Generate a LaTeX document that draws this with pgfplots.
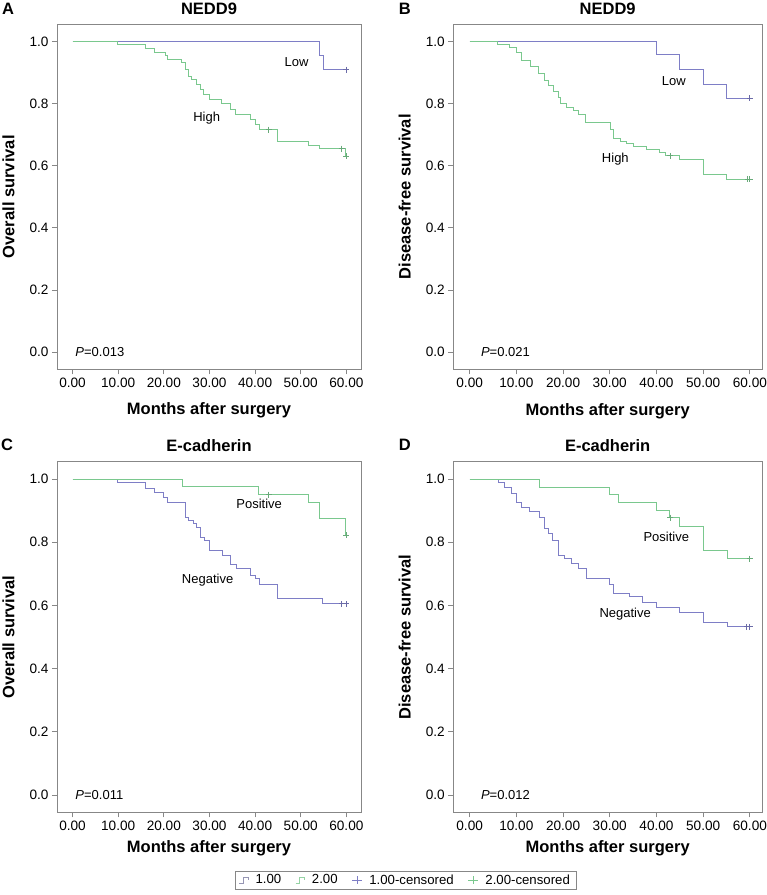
\documentclass[border=0pt]{standalone}
\usepackage{fontspec}
\setmainfont{Liberation Sans}
\usepackage{pgfplots}
\pgfplotsset{compat=1.18}

\definecolor{kmblue}{RGB}{126,126,198}
\definecolor{kmgreen}{RGB}{122,200,142}
\definecolor{frame}{RGB}{135,135,135}
\definecolor{iconblue}{RGB}{150,150,180}

\newcommand{\lblfont}{\fontsize{16.5}{18}\selectfont\bfseries}
\newcommand{\txtfont}{\fontsize{13}{15}\selectfont}

\pgfplotsset{
  km/.style={
    scale only axis,
    xmin=-3.4, xmax=63.2,
    ymin=-0.055, ymax=1.055,
    xtick={0,10,...,60},
    ytick={0,0.2,0.4,0.6,0.8,1.0},
    xticklabel style={/pgf/number format/.cd,fixed,fixed zerofill,precision=2},
    yticklabel style={/pgf/number format/.cd,fixed,fixed zerofill,precision=1},
    /pgf/number format/assume math mode=true,
    tick label style={font=\fontsize{13.6}{15}\selectfont},
    tick align=outside, tick pos=left,
    major tick length=5pt,
    axis line style={frame, line width=0.9pt},
    every tick/.style={frame, line width=0.8pt},
    label style={font=\lblfont},
    title style={font=\lblfont},
    every axis title shift=0pt,
    xlabel={Months after surgery},
    clip=false,
  },
  step1/.style={const plot, color=kmblue, line width=0.9pt, no marks},
  step2/.style={const plot, color=kmgreen, line width=0.9pt, no marks},
  cens1/.style={only marks, mark=+, mark size=3pt, color=kmblue!85!black, mark options={line width=0.9pt}},
  cens2/.style={only marks, mark=+, mark size=3pt, color=kmgreen!85!black, mark options={line width=0.9pt}},
}

\begin{document}
\begin{tikzpicture}
\path[use as bounding box] (0pt,0pt) rectangle (767pt,-895pt);

% ---------------- A ----------------
\begin{axis}[km,
  at={(57pt,-24.3pt)}, anchor=north west,
  width=304pt, height=345pt,
  ylabel={Overall survival},
  ylabel style={at={(axis description cs:-0.16,0.5)}, anchor=center},
  xlabel style={at={(axis description cs:0.5,-0.119)}, anchor=center},
  title={NEDD9},
  title style={at={(axis description cs:0.5,1.044)}, anchor=center},
]
\addplot[step1] coordinates {(0,1) (54,0.955) (55,0.909) (60,0.909)};
\addplot[step2] coordinates {
 (0,1) (9.9,0.989) (15.9,0.978) (18,0.966) (20.3,0.955) (20.9,0.943)
 (23.9,0.932) (24.8,0.909) (25.4,0.887) (26.1,0.876) (27.1,0.86)
 (28,0.845) (28.7,0.83) (30,0.812) (32.7,0.80) (34.7,0.78) (35.8,0.764)
 (38.9,0.748) (40,0.732) (40.9,0.716) (44.8,0.678) (51.7,0.666)
 (54,0.655) (59.7,0.63) (60,0.63)};
\addplot[cens1] coordinates {(60,0.909)};
\addplot[cens2] coordinates {(43,0.716) (59,0.655) (60,0.63)};
\node[font=\txtfont] at (axis cs:49.1,0.932) {Low};
\node[font=\txtfont] at (axis cs:29.4,0.753) {High};
\node[font=\txtfont, anchor=west, inner sep=0pt] at (axis cs:0.6,0) {\textit{P}=0.013};
\node[font=\lblfont] at (axis description cs:-0.161,1.046) {A};
\end{axis}

% ---------------- B ----------------
\begin{axis}[km,
  at={(453.3pt,-24.3pt)}, anchor=north west,
  width=308.7pt, height=345pt,
  xmin=-3.5, xmax=62.6,
  ylabel={Disease-free survival},
  ylabel style={at={(axis description cs:-0.157,0.5)}, anchor=center},
  xlabel style={at={(axis description cs:0.5,-0.121)}, anchor=center},
  title={NEDD9},
  title style={at={(axis description cs:0.5,1.044)}, anchor=center},
]
\addplot[step1] coordinates {(0,1) (40,0.957) (45,0.909) (50,0.863) (55,0.817) (60,0.817)};
\addplot[step2] coordinates {
 (0,1) (5.9,0.99) (8.5,0.98) (10,0.966) (11,0.94) (13,0.92) (14.8,0.898)
 (16,0.875) (16.8,0.857) (17.9,0.84) (19,0.821) (19.5,0.80) (20.8,0.789)
 (22.2,0.778) (23.3,0.766) (24.7,0.74) (30.2,0.716) (30.7,0.689)
 (32.2,0.678) (33.6,0.671) (35,0.662) (37.9,0.652) (40.7,0.643)
 (42,0.632) (45,0.62) (50,0.571) (55,0.557) (60,0.557)};
\addplot[cens1] coordinates {(60,0.817)};
\addplot[cens2] coordinates {(43,0.632) (59.5,0.557) (60,0.557)};
\node[font=\txtfont] at (axis cs:43.7,0.871) {Low};
\node[font=\txtfont] at (axis cs:31.2,0.62) {High};
\node[font=\txtfont, anchor=west, inner sep=0pt] at (axis cs:2.4,0) {\textit{P}=0.021};
\node[font=\lblfont] at (axis description cs:-0.157,1.046) {B};
\end{axis}

% ---------------- C ----------------
\begin{axis}[km,
  at={(57pt,-461.7pt)}, anchor=north west,
  width=304pt, height=350.6pt,
  ylabel={Overall survival},
  ylabel style={at={(axis description cs:-0.16,0.5)}, anchor=center},
  xlabel style={at={(axis description cs:0.5,-0.103)}, anchor=center},
  title={E-cadherin},
  title style={at={(axis description cs:0.5,1.045)}, anchor=center},
  legend columns=-1,
  legend style={at={(axis description cs:1.146,-0.193)}, anchor=center,
    draw=frame, line width=0.6pt, font=\fontsize{13.2}{15}\selectfont,
    inner xsep=4pt, inner ysep=1.5pt,
    /tikz/every odd column/.append style={column sep=5pt},
    /tikz/every even column/.append style={column sep=12pt}},
]
\addplot[step1, legend image code/.code={
  \draw[iconblue, line width=0.7pt] (0pt,-3pt) -- (4pt,-3pt) -- (4pt,2.5pt) -- (9pt,2.5pt) -- (9pt,0pt);}]
 coordinates {
 (0,1) (9.85,0.988) (15.9,0.969) (17.9,0.957) (19.9,0.943) (20.9,0.925)
 (24.8,0.88) (25.5,0.869) (26.5,0.859) (27.2,0.846) (28.1,0.816) (29,0.806)
 (30,0.774) (32.9,0.758) (34.7,0.73) (36,0.716) (38.9,0.695) (40,0.685)
 (40.9,0.667) (44.9,0.621) (54.8,0.605) (60,0.605)};
\addlegendentry{1.00}
\addplot[step2, legend image code/.code={
  \draw[kmgreen!80!white, line width=0.7pt] (0pt,-3pt) -- (4pt,-3pt) -- (4pt,2.5pt) -- (9pt,2.5pt) -- (9pt,0pt);}]
 coordinates {(0,1) (24,0.977) (40.7,0.951) (51.7,0.927) (54,0.874) (59.9,0.822) (60,0.822)};
\addlegendentry{2.00}
\addplot[cens1, legend image code/.code={
  \draw[kmblue, line width=0.7pt] (0pt,0pt) -- (10pt,0pt) (5pt,-4pt) -- (5pt,4pt);}]
 coordinates {(59,0.605) (60,0.605)};
\addlegendentry{1.00-censored}
\addplot[cens2, legend image code/.code={
  \draw[kmgreen, line width=0.7pt] (0pt,0pt) -- (10pt,0pt) (5pt,-4pt) -- (5pt,4pt);}]
 coordinates {(43,0.951) (60,0.822)};
\addlegendentry{2.00-censored}
\node[font=\txtfont] at (axis cs:40.9,0.922) {Positive};
\node[font=\txtfont] at (axis cs:29.6,0.679) {Negative};
\node[font=\txtfont, anchor=west, inner sep=0pt] at (axis cs:0.6,0) {\textit{P}=0.011};
\node[font=\lblfont] at (axis description cs:-0.164,1.048) {C};
\end{axis}

% ---------------- D ----------------
\begin{axis}[km,
  at={(453.3pt,-461.7pt)}, anchor=north west,
  width=308.7pt, height=350.6pt,
  xmin=-3.5, xmax=62.6,
  ylabel={Disease-free survival},
  ylabel style={at={(axis description cs:-0.157,0.5)}, anchor=center},
  xlabel style={at={(axis description cs:0.5,-0.103)}, anchor=center},
  title={E-cadherin},
  title style={at={(axis description cs:0.5,1.045)}, anchor=center},
]
\addplot[step1] coordinates {
 (0,1) (6.1,0.988) (7.5,0.975) (8.9,0.956) (10,0.927) (11.1,0.911)
 (12.8,0.896) (15,0.88) (16,0.843) (16.8,0.827) (17.8,0.806) (19,0.758)
 (20.3,0.748) (21.8,0.732) (23.2,0.716) (25,0.685) (30,0.667) (30.7,0.637)
 (34.2,0.627) (37.1,0.608) (40,0.595) (45,0.579) (50.1,0.547) (55.1,0.532)
 (60,0.532)};
\addplot[step2] coordinates {
 (0,1) (15,0.975) (30,0.951) (31.8,0.925) (40,0.901) (42.8,0.878)
 (44.9,0.85) (50.1,0.774) (55.1,0.748) (60,0.748)};
\addplot[cens1] coordinates {(59.3,0.532) (60,0.532)};
\addplot[cens2] coordinates {(43,0.878) (60,0.748)};
\node[font=\txtfont] at (axis cs:42.1,0.816) {Positive};
\node[font=\txtfont] at (axis cs:33.3,0.572) {Negative};
\node[font=\txtfont, anchor=west, inner sep=0pt] at (axis cs:2.4,0) {\textit{P}=0.012};
\node[font=\lblfont] at (axis description cs:-0.157,1.048) {D};
\end{axis}
\end{tikzpicture}
\end{document}
